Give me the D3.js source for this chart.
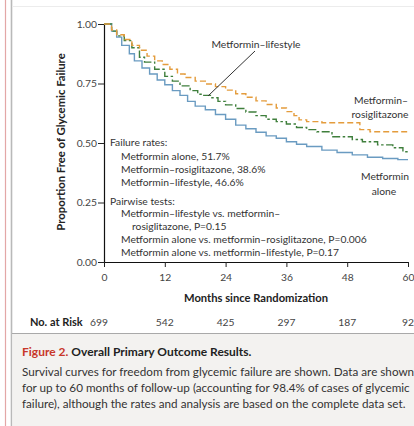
<!DOCTYPE html>
<html>
<head>
<meta charset="utf-8">
<script src="https://cdn.jsdelivr.net/npm/d3@7/dist/d3.min.js"></script>
<style>
  html, body { margin: 0; padding: 0; background: #fff; }
  svg { display: block; }
  text { font-family: Lato, "Open Sans", sans-serif; }
</style>
</head>
<body>
<svg id="chart" width="414" height="426"></svg>
<script>
// Kaplan–Meier estimates of freedom from glycemic failure, by treatment arm
const aloneMonths = [0, 1.5, 2.5, 3.5, 5, 6, 7.5, 9, 10.5, 12, 13.5, 15, 16.5, 18, 20, 22, 24, 26, 28, 30, 32, 34, 36, 38, 40, 43, 46, 49, 52, 55, 58, 60];
const aloneSurv   = [1.0, 0.97, 0.945, 0.91, 0.875, 0.845, 0.815, 0.79, 0.765, 0.745, 0.72, 0.70, 0.675, 0.655, 0.64, 0.62, 0.60, 0.575, 0.56, 0.545, 0.53, 0.52, 0.505, 0.495, 0.485, 0.47, 0.46, 0.45, 0.44, 0.435, 0.43, 0.43];

const rosiMonths = [0, 1.5, 2.5, 4, 5.5, 7, 8.5, 10, 11.5, 13, 14.5, 16, 18, 20, 22, 24, 26, 28, 30, 32, 34, 36, 37.5, 38.5, 40, 43, 50.5, 52.5, 60];
const rosiSurv   = [1.0, 0.975, 0.955, 0.935, 0.91, 0.89, 0.865, 0.845, 0.83, 0.81, 0.79, 0.775, 0.76, 0.748, 0.737, 0.722, 0.707, 0.692, 0.677, 0.662, 0.647, 0.632, 0.615, 0.597, 0.59, 0.585, 0.556, 0.547, 0.547];

const lifeMonths = [0, 1.5, 2.5, 4, 5.5, 7, 8, 10, 12, 13.5, 15, 17, 18.5, 19.5, 21, 22.5, 24, 26, 28, 30, 32, 34, 36, 38, 40, 42, 45, 49, 51, 54, 57, 59, 60];
const lifeSurv   = [1.0, 0.97, 0.95, 0.93, 0.90, 0.86, 0.84, 0.81, 0.78, 0.76, 0.74, 0.72, 0.705, 0.70, 0.69, 0.675, 0.66, 0.645, 0.63, 0.615, 0.60, 0.59, 0.58, 0.565, 0.556, 0.547, 0.526, 0.515, 0.505, 0.492, 0.48, 0.463, 0.463];

const xTicks = [0, 12, 24, 36, 48, 60];
const yTicks = [0, 0.25, 0.5, 0.75, 1.0];
const atRisk = [699, 542, 425, 297, 187, 92];

const failureRates = ["Metformin alone, 51.7%", "Metformin\u2013rosiglitazone, 38.6%", "Metformin\u2013lifestyle, 46.6%"];
const pairwiseTests = [
  ["Metformin\u2013lifestyle vs. metformin\u2013", 0],
  ["rosiglitazone, P=0.15", 1],
  ["Metformin alone vs. metformin\u2013rosiglitazone, P=0.006", 0],
  ["Metformin alone vs. metformin\u2013lifestyle, P=0.17", 0]
];
const captionLines = [
  "Survival curves for freedom from glycemic failure are shown. Data are shown",
  "for up to 60 months of follow-up (accounting for 98.4% of cases of glycemic",
  "failure), although the rates and analysis are based on the complete data set."
];

const svg = d3.select("#chart");

// page frame
svg.append("line").attr("x1", 5.5).attr("x2", 5.5).attr("y1", 0).attr("y2", 426)
  .attr("stroke", "#e3a7a7").attr("stroke-width", 1.2);
svg.append("line").attr("x1", 11.5).attr("x2", 11.5).attr("y1", 0).attr("y2", 426)
  .attr("stroke", "#b9b9b9").attr("stroke-width", 1.6);
svg.append("line").attr("x1", 12).attr("x2", 414).attr("y1", 6.5).attr("y2", 6.5)
  .attr("stroke", "#ececec").attr("stroke-width", 1);

// caption panel
svg.append("rect").attr("x", 12.5).attr("y", 334).attr("width", 402).attr("height", 92)
  .attr("fill", "#f3f2f0");
svg.append("line").attr("x1", 12).attr("x2", 414).attr("y1", 333.5).attr("y2", 333.5)
  .attr("stroke", "#a9a9a9").attr("stroke-width", 1.2);

const x = d3.scaleLinear().domain([0, 60]).range([104, 408]);
const y = d3.scaleLinear().domain([0, 1]).range([262, 24]);

// axes
const yAxis = svg.append("g").attr("transform", "translate(104,0)")
  .call(d3.axisLeft(y).tickValues(yTicks).tickFormat(d3.format(".2f")).tickSize(6).tickPadding(1));
const xAxis = svg.append("g").attr("transform", "translate(0,262)")
  .call(d3.axisBottom(x).tickValues(xTicks).tickSize(5).tickPadding(7).tickSizeOuter(0));
[yAxis, xAxis].forEach(g => {
  g.select(".domain").attr("stroke", "#111").attr("stroke-width", 1.2);
  g.selectAll(".tick line").attr("stroke", "#222").attr("stroke-width", 1);
  g.selectAll(".tick text").attr("fill", "#444").style("font-size", "10.3px")
    .style("font-family", "Lato, sans-serif");
});

svg.append("text")
  .attr("transform", "translate(65,142) rotate(-90)")
  .attr("text-anchor", "middle")
  .style("font-size", "11.3px").style("font-weight", "bold").attr("fill", "#222")
  .text("Proportion Free of Glycemic Failure");

svg.append("text").attr("x", 256).attr("y", 302).attr("text-anchor", "middle")
  .style("font-size", "11.2px").style("font-weight", "bold").attr("fill", "#222")
  .text("Months since Randomization");

// number at risk
svg.append("text").attr("x", 30).attr("y", 326)
  .style("font-size", "11px").style("font-weight", "bold").attr("fill", "#222")
  .text("No. at Risk");
svg.selectAll(".risk").data(atRisk).join("text")
  .attr("class", "risk")
  .attr("x", (d, i) => x(xTicks[i]) - (i === 0 ? 5 : 0))
  .attr("y", 326).attr("text-anchor", "middle")
  .style("font-size", "10.3px").attr("fill", "#444")
  .text(d => d);

// survival curves
const line = d3.line().curve(d3.curveStepAfter).x(d => x(d[0])).y(d => y(d[1]));
const series = [
  { months: aloneMonths, surv: aloneSurv, color: "#6a9bc1", dash: null },
  { months: lifeMonths, surv: lifeSurv, color: "#3f7f3c", dash: "8,2.5,2.5,2.5" },
  { months: rosiMonths, surv: rosiSurv, color: "#e49c3c", dash: "6,3" }
];
series.forEach(s => {
  svg.append("path")
    .datum(s.months.map((m, i) => [m, s.surv[i]]))
    .attr("d", line)
    .attr("fill", "none")
    .attr("stroke", s.color)
    .attr("stroke-width", 1.4)
    .attr("stroke-dasharray", s.dash);
});

// curve labels
svg.append("line").attr("x1", 255).attr("y1", 51).attr("x2", 208).attr("y2", 96)
  .attr("stroke", "#333").attr("stroke-width", 1);
const lab = svg.append("g").style("font-size", "10.3px").attr("fill", "#333").attr("text-anchor", "middle");
lab.append("text").attr("x", 256).attr("y", 48).text("Metformin\u2013lifestyle");
lab.append("text").attr("x", 381).attr("y", 104).text("Metformin\u2013");
lab.append("text").attr("x", 380).attr("y", 118).text("rosiglitazone");
lab.append("text").attr("x", 385).attr("y", 180).text("Metformin");
lab.append("text").attr("x", 384).attr("y", 195).text("alone");

// statistics block
const stats = svg.append("g").style("font-size", "10.3px").attr("fill", "#333");
stats.append("text").attr("x", 110).attr("y", 146).text("Failure rates:");
stats.selectAll(".rate").data(failureRates).join("text").attr("class", "rate")
  .attr("x", 121).attr("y", (d, i) => 160 + i * 13).text(d => d);
stats.append("text").attr("x", 110).attr("y", 205).text("Pairwise tests:");
stats.selectAll(".pair").data(pairwiseTests).join("text").attr("class", "pair")
  .attr("x", d => d[1] ? 132 : 121).attr("y", (d, i) => 217 + i * 13).text(d => d[0]);

// caption
const cap = svg.append("text").attr("x", 22).attr("y", 356).style("font-size", "12px");
cap.append("tspan").attr("fill", "#c8372a").style("font-weight", "bold").text("Figure 2. ");
cap.append("tspan").attr("fill", "#222").style("font-weight", "bold").text("Overall Primary Outcome Results.");
svg.selectAll(".cap").data(captionLines).join("text").attr("class", "cap")
  .attr("x", 22).attr("y", (d, i) => 376 + i * 16)
  .style("font-size", "11.7px").attr("fill", "#333").text(d => d);
</script>
</body>
</html>
